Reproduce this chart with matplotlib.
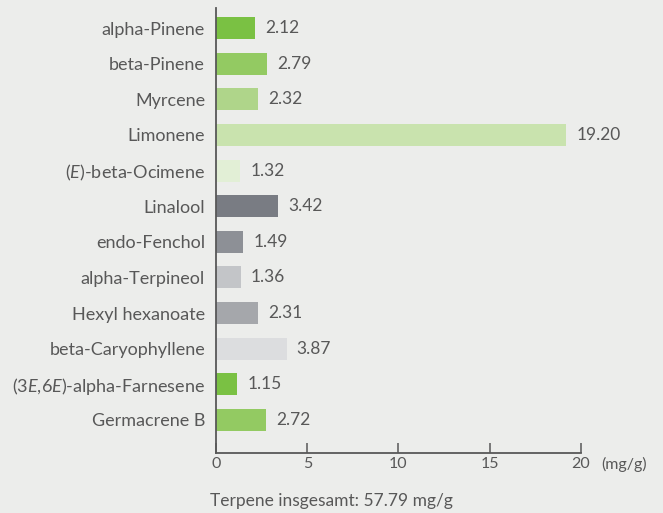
import numpy as np
import matplotlib
matplotlib.use("Agg")
import matplotlib.pyplot as plt

plt.rcParams['font.family'] = ['Lato', 'DejaVu Sans']
plt.rcParams['mathtext.fontset'] = 'custom'
plt.rcParams['mathtext.rm'] = 'Lato'
plt.rcParams['mathtext.it'] = 'Lato:italic'

# data
terpenes = ["alpha-Pinene", "beta-Pinene", "Myrcene", "Limonene",
            r"($\mathit{E}$)-beta-Ocimene", "Linalool", "endo-Fenchol",
            "alpha-Terpineol", "Hexyl hexanoate", "beta-Caryophyllene",
            r"(3$\mathit{E}$,6$\mathit{E}$)-alpha-Farnesene", "Germacrene B"]
values = [2.12, 2.79, 2.32, 19.20, 1.32, 3.42, 1.49, 1.36, 2.31, 3.87, 1.15, 2.72]
colours = ["#7ac143", "#93ca62", "#afd58a", "#c9e3ae", "#e2efd6", "#797c83",
           "#8d9096", "#c3c5c8", "#a5a7ab", "#dcdddf", "#7ac143", "#93ca62"]
xticks = [0, 5, 10, 15, 20]
total = "Terpene insgesamt: 57.79 mg/g"

bg = "#ecedeb"
txt = "#585858"

fig = plt.figure(figsize=(6.63, 5.13), dpi=100, facecolor=bg)
ax = fig.add_axes([0.326, 0.117, 0.550, 0.867])
ax.set_facecolor(bg)

pos = np.arange(len(terpenes))
ax.barh(pos, values, height=0.62, color=colours)
for p, v in zip(pos, values):
    ax.text(v + 0.55, p, f"{v:.2f}", va='center', ha='left',
            fontsize=12.5, color=txt)

ax.set_xlim(0, 20)
ax.set_ylim(11.93, -0.56)
ax.set_yticks(pos)
ax.set_yticklabels(terpenes, fontsize=13, color=txt)
ax.set_xticks(xticks)
ax.set_xticklabels([str(t) for t in xticks], fontsize=11.5, color=txt)
ax.tick_params(axis='y', length=0, pad=8)
ax.tick_params(axis='x', direction='in', length=7, width=1.1, color=txt, pad=3)

for s in ['top', 'right']:
    ax.spines[s].set_visible(False)
for s in ['left', 'bottom']:
    ax.spines[s].set_color(txt)
    ax.spines[s].set_linewidth(1.3)

ax.text(21.1, -0.008, "(mg/g)", transform=ax.get_xaxis_transform(),
        ha='left', va='top', fontsize=11.5, color=txt)
fig.text(210 / 663, 1 - 501 / 513, total, ha='left', va='center',
         fontsize=12.5, color=txt)

fig.savefig("out.png", dpi=100, facecolor=bg)
